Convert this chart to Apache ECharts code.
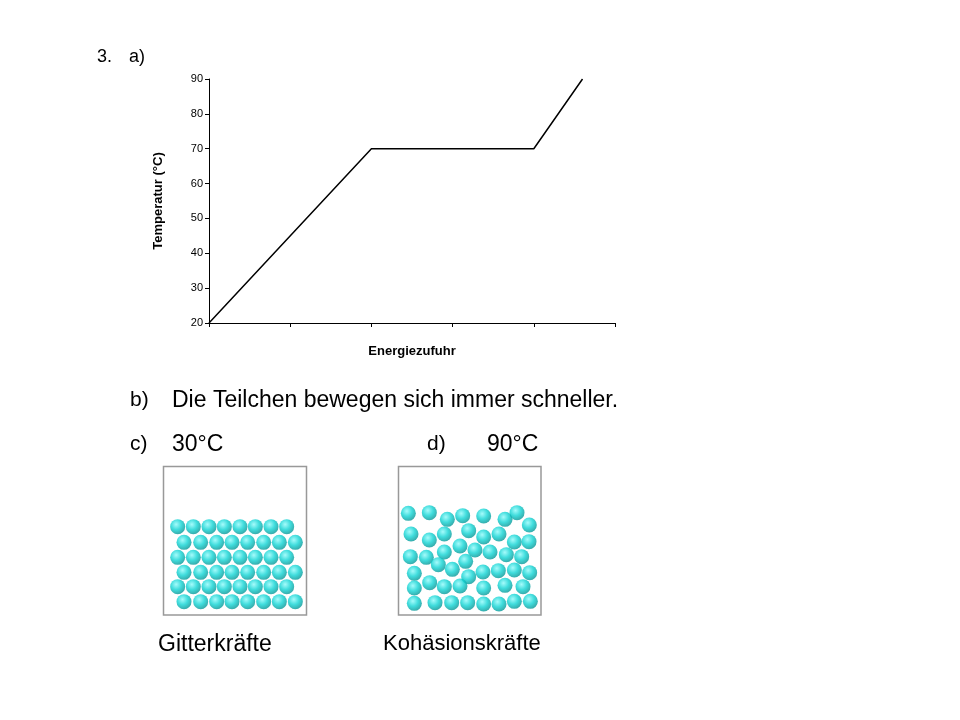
<!DOCTYPE html><html><head><meta charset="utf-8"><script src="https://cdn.jsdelivr.net/npm/echarts@6/dist/echarts.min.js"></script>
<style>html,body{margin:0;background:#fff}#c{width:960px;height:720px}</style></head><body><div id="c"></div><script>
const energy=[0,2,4,4.6];
const temperature=[20,70,70,90];
const yTicks=[20,30,40,50,60,70,80,90];
const solidParticles=[
[53,200],[100,200],[147,200],[193,200],[240,200],[286,200],[333,200],[380,200],
[72,247],[122,247],[170,247],[216,247],[263,247],[311,247],[358,247],[406,247],
[53,292],[100,292],[147,292],[193,292],[240,292],[286,292],[333,292],[380,292],
[72,337],[122,337],[170,337],[216,337],[263,337],[311,337],[358,337],[406,337],
[53,380],[100,380],[147,380],[193,380],[240,380],[286,380],[333,380],[380,380],
[72,425],[122,425],[170,425],[216,425],[263,425],[311,425],[358,425],[406,425]];
const liquidParticles=[
[40,160],[103,158],[157,178],[203,167],[266,168],[330,178],[366,158],[403,195],
[48,222],[103,240],[148,222],[221,212],[266,231],[312,222],[358,246],[402,245],
[46,290],[94,292],[148,276],[195,258],[240,270],[285,276],[334,284],[380,290],
[130,314],[172,328],[212,304],[58,340],[221,350],[264,336],[310,332],[358,330],[404,338],
[58,384],[104,368],[148,380],[195,378],[266,384],[330,376],[384,380],
[58,430],[120,428],[170,428],[218,428],[266,432],[312,432],[358,424],[406,424]];
const font='Liberation Sans, Arial, sans-serif';
const ball={color:{type:'radial',x:0.4,y:0.35,r:0.7,colorStops:[{offset:0,color:'#8ffafa'},{offset:0.5,color:'#10d4d4'},{offset:1,color:'#038f8f'}]}};
const chart=echarts.init(document.getElementById('c'));
const hid={show:false,type:'value'};
chart.setOption({animation:false,
grid:[{left:209,top:79,width:406,height:244},{left:160,top:460,width:150,height:160},{left:395,top:460,width:150,height:160}],
xAxis:[{type:'value',min:0,max:5,interval:1,gridIndex:0,axisLine:{lineStyle:{color:'#000'}},axisTick:{show:true,length:4,lineStyle:{color:'#000'}},axisLabel:{show:false},splitLine:{show:false},
name:'Energiezufuhr',nameLocation:'middle',nameGap:22,nameTextStyle:{fontFamily:font,fontSize:13,fontWeight:'bold',color:'#000'}},
{...hid,gridIndex:1,min:0,max:450},{...hid,gridIndex:2,min:0,max:450}],
yAxis:[{type:'value',min:yTicks[0],max:yTicks[yTicks.length-1],interval:10,gridIndex:0,axisLine:{show:true,lineStyle:{color:'#000'}},axisTick:{show:true,length:4,lineStyle:{color:'#000'}},axisLabel:{fontFamily:font,fontSize:11,color:'#000',margin:6},splitLine:{show:false},
name:'Temperatur (°C)',nameLocation:'middle',nameGap:44,nameTextStyle:{fontFamily:font,fontSize:13,fontWeight:'bold',color:'#000'}},
{...hid,gridIndex:1,min:0,max:480,inverse:true},{...hid,gridIndex:2,min:0,max:480,inverse:true}],
series:[{type:'line',data:energy.map((e,i)=>[e,temperature[i]]),symbol:'none',lineStyle:{color:'#000',width:1.5}},
{type:'scatter',xAxisIndex:1,yAxisIndex:1,data:solidParticles,symbolSize:15,itemStyle:ball},
{type:'scatter',xAxisIndex:2,yAxisIndex:2,data:liquidParticles,symbolSize:15,itemStyle:ball}],
graphic:[
{type:'rect',shape:{x:163.5,y:466.5,width:143,height:148.5},style:{fill:'none',stroke:'#999',lineWidth:1.5},z:-1},
{type:'rect',shape:{x:398.5,y:466.5,width:142.5,height:148.5},style:{fill:'none',stroke:'#999',lineWidth:1.5},z:-1},
...[['3.',97,58,18],['a)',129,58,18],['b)',130,402,21],['Die Teilchen bewegen sich immer schneller.',172,402,23],['c)',130,446,21],['30°C',172,446,23],['d)',427,446,21],['90°C',487,446,23],['Gitterkräfte',158,646,23],['Kohäsionskräfte',383,646,22]].map(t=>({type:'text',left:t[1],top:t[2]-t[3]*0.58,style:{text:t[0],font:t[3]+'px '+font,fill:'#000'}}))
]});
</script></body></html>
